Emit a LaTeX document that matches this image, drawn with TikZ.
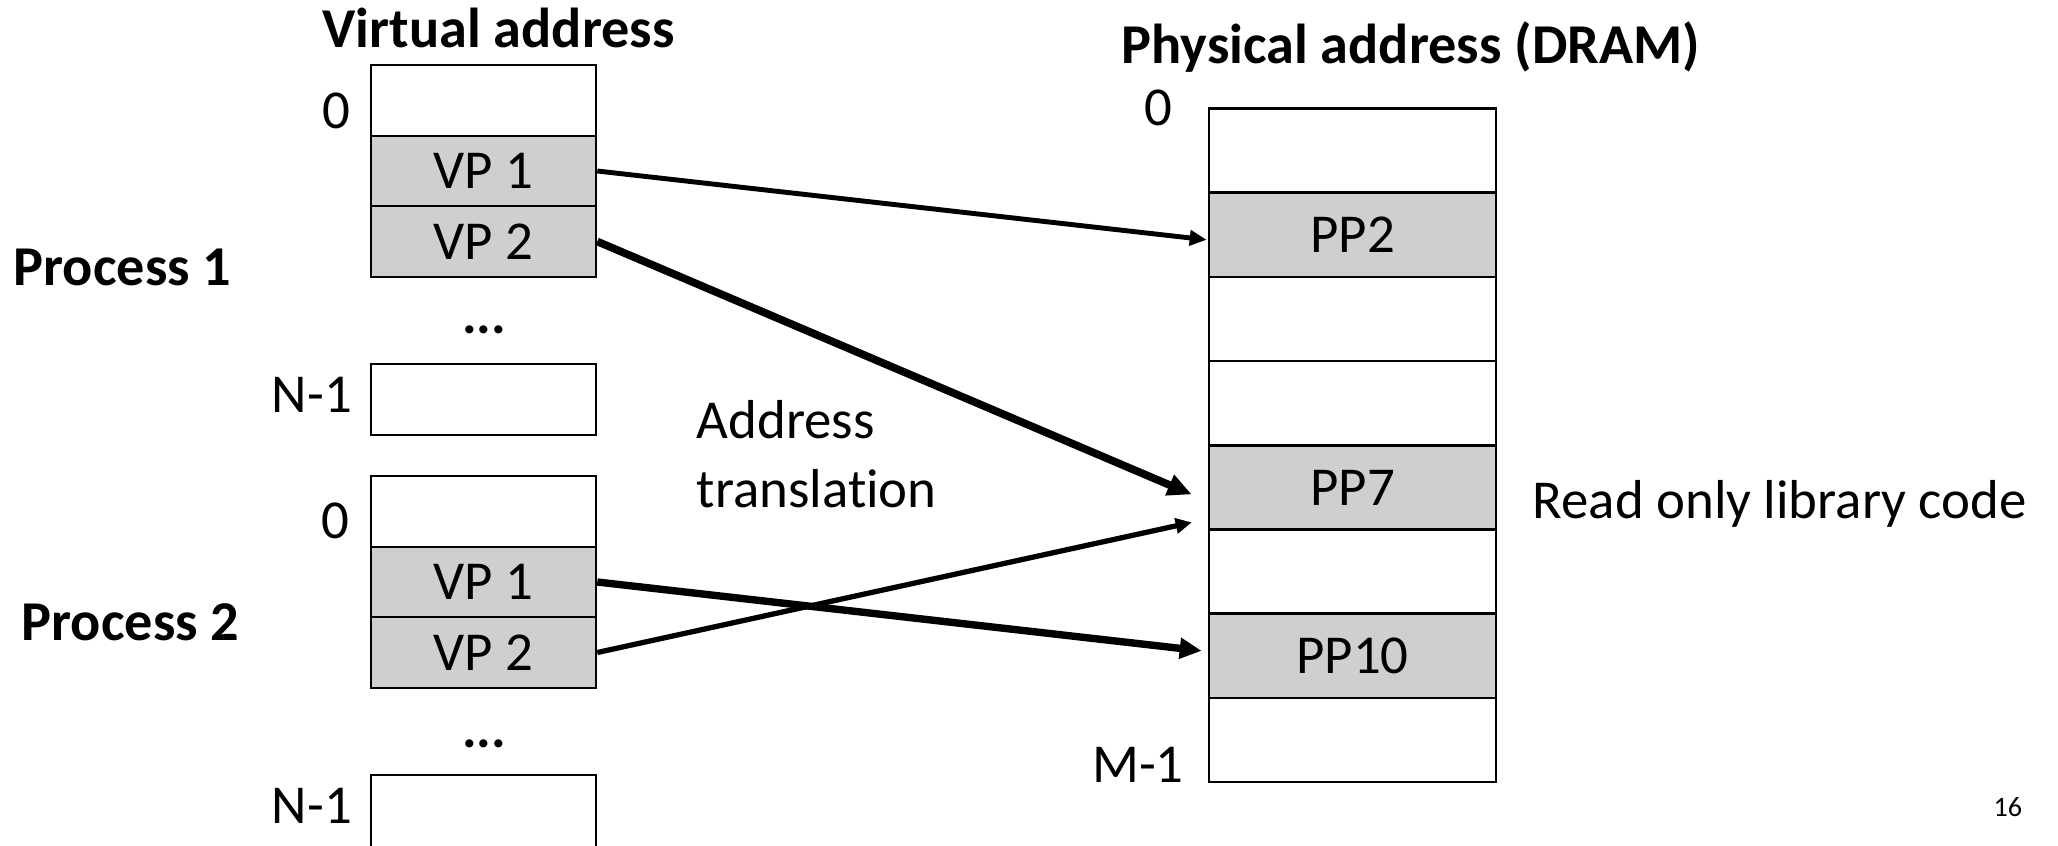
\documentclass[tikz,border=0pt]{standalone}
\usepackage{fontspec}
\setmainfont{Carlito}[Ligatures=NoCommon]
\usetikzlibrary{calc,arrows.meta}
\definecolor{pagegray}{RGB}{208,206,208}
\tikzset{
	vpage/.style={draw, line width=0.7pt, minimum width=2.25cm, minimum height=0.705cm, inner sep=0pt},
	ppage/.style={draw, line width=0.7pt, minimum width=2.87cm, minimum height=0.842cm, inner sep=0pt},
	used/.style={fill=pagegray},
	lbl/.style={inner sep=0pt, anchor=base},
	txt/.style={inner sep=0pt, anchor=base west},
	title/.style={txt, font=\fontsize{16}{18}\selectfont\bfseries},
}

\begin{document}
\begin{tikzpicture}[x=0.01cm, y=-0.01cm, font=\fontsize{15.6}{18}\selectfont]
			%%%%% START %%%%%
			\useasboundingbox (0,0) rectangle (2058,845);
			
			\node[title] (vtitle) at (322,47) {Virtual address};
			\node[title] (ptitle) at (1121,63) {Physical address (DRAM)};
			
			% process 1
			\node[title] (proc1) at (13,285) {Process 1};
			\node[vpage] (vpa0) at (483.5,100.5) {};
			\node[vpage, used] (vpa1) at (483.5,171) {VP 1};
			\node[vpage, used] (vpa2) at (483.5,241.5) {VP 2};
			\node[lbl] (vadots) at (484,333) {\textbf{...}};
			\node[vpage] (vpaN) at (483.5,399.5) {};
			\node[lbl] (vazero) at (336,128) {0};
			\node[lbl] (valast) at (312,412) {N-1};
			
			% process 2
			\node[title] (proc2) at (21,640) {Process 2};
			\node[vpage] (vpb0) at (483.5,511.5) {};
			\node[vpage, used] (vpb1) at (483.5,582) {VP 1};
			\node[vpage, used] (vpb2) at (483.5,652.5) {VP 2};
			\node[lbl] (vbdots) at (484,747) {\textbf{...}};
			\node[vpage, minimum height=0.8cm] (vpbN) at (483.5,815) {};
			\node[lbl] (vbzero) at (335,538) {0};
			\node[lbl] (vblast) at (312,823) {N-1};
			
			% DRAM
			\node[ppage] (pp0) at (1352.5,150.6) {};
			\node[ppage, used] (pp1) at (1352.5,234.8) {PP2};
			\node[ppage] (pp2) at (1352.5,319) {};
			\node[ppage] (pp3) at (1352.5,403.2) {};
			\node[ppage, used] (pp4) at (1352.5,487.4) {PP7};
			\node[ppage] (pp5) at (1352.5,571.6) {};
			\node[ppage, used] (pp6) at (1352.5,655.8) {PP10};
			\node[ppage] (pp7) at (1352.5,740) {};
			\node[lbl] (pzero) at (1158,125) {0};
			\node[lbl] (plast) at (1138,782) {M-1};
			
			\node[txt, align=left, font=\fontsize{15.6}{19.6}\selectfont] (xlat) at (696,507) {Address\\translation};
			\node[txt] (rocode) at (1532,518) {Read only library code};
			\node[txt, font=\fontsize{8}{10}\selectfont] (pgno) at (1993,816) {16};
			
			% mappings
			\draw[line width=1.4pt, -{Triangle[length=0.17cm, width=0.15cm]}] (vpa1.east) -- ($(pp1.west)+(-1,5)$);
			\draw[line width=2.2pt, -{Triangle[length=0.24cm, width=0.21cm]}] (vpa2.east) -- ($(pp4.west)+(-16,7)$);
			\draw[line width=2.1pt, -{Triangle[length=0.22cm, width=0.2cm]}] (vpb1.east) -- ($(pp6.west)+(-6,-5)$);
			\draw[line width=1.5pt, -{Triangle[length=0.16cm, width=0.15cm]}] (vpb2.east) -- ($(pp4.west)+(-16,35)$);
			
			%%%%% END %%%%%
\end{tikzpicture}
\end{document}
